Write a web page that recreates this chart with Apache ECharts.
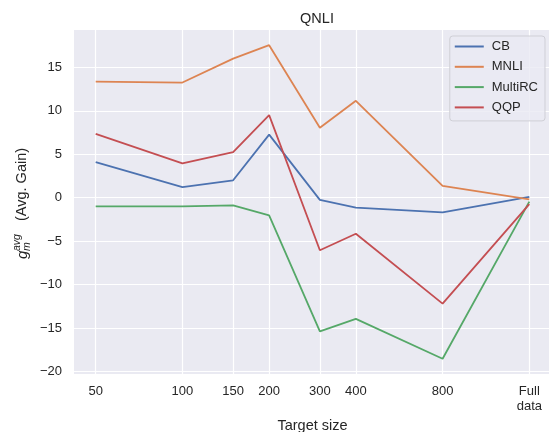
<!DOCTYPE html>
<html>
<head>
<meta charset="utf-8">
<script src="https://cdn.jsdelivr.net/npm/echarts@6/dist/echarts.min.js"></script>
<style>html,body{margin:0;padding:0;background:#fff;}#c{width:549px;height:432px;}</style>
</head>
<body>
<div id="c"></div>
<script>
// ---- data ----
const targetSizes = [50, 100, 150, 200, 300, 400, 800, 1600]; // 1600 = "Full data" position
const tickLabels = ['50', '100', '150', '200', '300', '400', '800', 'Full\ndata'];
const cbValues      = [4.1, 1.2, 2.0, 7.25, -0.25, -1.15, -1.7, 0.1];
const mnliValues    = [13.35, 13.25, 16.0, 17.55, 8.05, 11.15, 1.35, -0.2];
const multircValues = [-1.0, -1.0, -0.9, -2.05, -15.4, -13.95, -18.55, -0.45];
const qqpValues     = [7.35, 3.95, 5.25, 9.5, -6.05, -4.15, -12.2, -0.75];
const yTicks = [-20, -15, -10, -5, 0, 5, 10, 15];

const seriesDefs = [
  {name: 'CB', values: cbValues, color: '#4C72B0'},
  {name: 'MNLI', values: mnliValues, color: '#DD8452'},
  {name: 'MultiRC', values: multircValues, color: '#55A868'},
  {name: 'QQP', values: qqpValues, color: '#C44E52'}
];

const txt = '#262626';
const chart = echarts.init(document.getElementById('c'), null, {renderer: 'canvas'});
chart.setOption({
  animation: false,
  backgroundColor: '#ffffff',
  title: {
    text: 'QNLI', left: 312, top: 6, textAlign: 'center',
    textStyle: {fontFamily: 'Liberation Sans', fontSize: 14.5, fontWeight: 'normal', color: txt}
  },
  grid: {
    left: 74, top: 30, right: -2, bottom: 58,
    containLabel: false, outerBoundsMode: 'none',
    show: true, backgroundColor: '#EAEAF2', borderWidth: 0
  },
  legend: {
    right: 4, top: 36, orient: 'vertical',
    padding: [4, 7, 7, 4],
    itemWidth: 29, itemHeight: 14, itemGap: 7.3,
    backgroundColor: 'rgba(234,234,242,0.8)',
    borderColor: '#cfcfd6', borderWidth: 1, borderRadius: 3,
    itemStyle: {opacity: 0},
    textStyle: {fontFamily: 'Liberation Sans', fontSize: 13, color: txt, padding: [0, 0, 0, 3]},
    data: seriesDefs.map(s => s.name)
  },
  xAxis: {
    type: 'log', logBase: 2,
    min: 50 * Math.pow(2, -0.25), max: 1600 * Math.pow(2, 0.25),
    name: 'Target size', nameLocation: 'middle', nameGap: 42,
    nameTextStyle: {fontFamily: 'Liberation Sans', fontSize: 14.5, color: txt},
    axisLine: {show: false},
    axisTick: {show: false, customValues: targetSizes},
    splitLine: {show: true, lineStyle: {color: '#ffffff', width: 1.2}},
    minorSplitLine: {show: false},
    axisLabel: {
      customValues: targetSizes,
      fontFamily: 'Liberation Sans', fontSize: 13, color: txt, margin: 10, lineHeight: 15,
      formatter: function (v) {
        const i = targetSizes.findIndex(t => Math.abs(t - v) < 1e-6 * t);
        return i >= 0 ? tickLabels[i] : '';
      }
    }
  },
  yAxis: {
    type: 'value', min: -20.3, max: 19.3,
    axisLine: {show: false},
    axisTick: {show: false, customValues: yTicks},
    splitLine: {show: true, lineStyle: {color: '#ffffff', width: 1.2}},
    axisLabel: {
      customValues: yTicks,
      fontFamily: 'Liberation Sans', fontSize: 13, color: txt, margin: 12,
      formatter: v => String(v).replace('-', '\u2212')
    }
  },
  graphic: [{
    type: 'group', x: 22, y: 202, rotation: Math.PI / 2,
    children: [
      {type: 'text', x: -57, y: 1, style: {text: 'g', font: 'italic 15px "Liberation Sans"', fill: txt, textAlign: 'left', textVerticalAlign: 'middle'}},
      {type: 'text', x: -49, y: -5, style: {text: 'avg', font: 'italic 10.5px "Liberation Sans"', fill: txt, textAlign: 'left', textVerticalAlign: 'middle'}},
      {type: 'text', x: -49, y: 5, style: {text: 'm', font: 'italic 10.5px "Liberation Sans"', fill: txt, textAlign: 'left', textVerticalAlign: 'middle'}},
      {type: 'text', x: -19, y: 0, style: {text: '(Avg. Gain)', font: '14.5px "Liberation Sans"', fill: txt, textAlign: 'left', textVerticalAlign: 'middle'}}
    ]
  }],
  series: seriesDefs.map(s => ({
    name: s.name, type: 'line', symbol: 'none', showSymbol: false,
    data: targetSizes.map((x, i) => [x, s.values[i]]),
    lineStyle: {color: s.color, width: 1.8},
    itemStyle: {color: s.color}
  }))
});
</script>
</body>
</html>
